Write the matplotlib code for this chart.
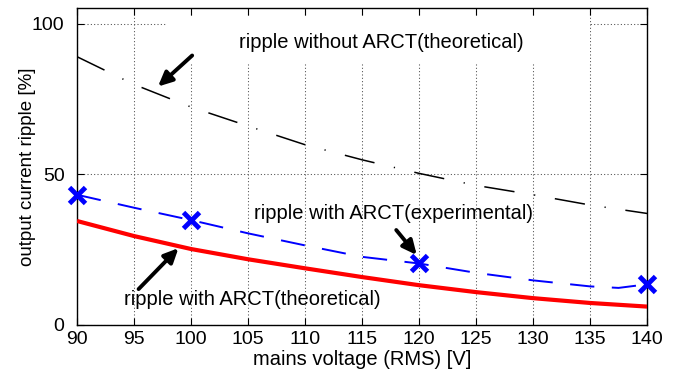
import matplotlib
matplotlib.use("Agg")
import matplotlib.pyplot as plt
from matplotlib.patches import Rectangle

plt.rcParams['font.family'] = ['Liberation Sans', 'DejaVu Sans']

# theoretical ripple without ARCT
v_without = [90, 95, 100, 105, 110, 115, 120, 125, 130, 135, 140]
ripple_without = [89.0, 79.8, 72.3, 66.0, 59.8, 54.8, 50.3, 46.3, 43.2, 39.8, 37.0]

# theoretical ripple with ARCT
v_theory = [90, 95, 100, 105, 110, 115, 120, 125, 130, 135, 140]
ripple_theory = [34.5, 29.5, 25.2, 21.8, 18.8, 15.9, 13.2, 10.9, 8.9, 7.3, 6.1]

# experimental ripple with ARCT (measured points + drawn dashed curve)
v_exp = [90, 100, 120, 140]
ripple_exp = [43.2, 34.8, 20.5, 13.5]
v_exp_curve = [90, 95, 100, 105, 110, 115, 120, 125, 130, 135, 137.5, 140]
ripple_exp_curve = [43.2, 38.9, 34.8, 30.4, 26.4, 22.6, 20.4, 17.3, 14.8, 12.8, 12.3, 13.5]

x_ticks = [90, 95, 100, 105, 110, 115, 120, 125, 130, 135, 140]
y_ticks = [0, 50, 100]

label_without = "ripple without ARCT(theoretical)"
label_exp = "ripple with ARCT(experimental)"
label_theory = "ripple with ARCT(theoretical)"

fig = plt.figure(figsize=(6.84, 3.77), dpi=100)
ax = fig.add_axes([0.1126, 0.138, 0.8334, 0.8395])
ax.set_xlim(90, 140)
ax.set_ylim(0, 105)
ax.set_axisbelow(True)

ax.grid(True, linestyle=(0, (1, 2.2)), color='0.3', linewidth=0.75)

# white box behind the top label (hides the grid)
ax.add_patch(Rectangle((97.9, 86.8), 37.1, 15.8, facecolor='white',
                       edgecolor='none', zorder=1))

ln, = ax.plot(v_without, ripple_without, color='black', linewidth=1.1, zorder=3)
ln.set_dashes([20, 13, 0.8, 13])

ax.plot(v_theory, ripple_theory, color='red', linewidth=3.0, zorder=3,
        solid_capstyle='butt')

lb, = ax.plot(v_exp_curve, ripple_exp_curve, color='blue', linewidth=1.4, zorder=3)
lb.set_dashes([12.5, 9])
ax.plot(v_exp, ripple_exp, linestyle='none', marker='x', color='blue',
        markersize=11, markeredgewidth=3.5, zorder=4, clip_on=False)

fs = 14.5
ax.text(116.7, 93.7, label_without, ha='center', va='center', fontsize=fs, zorder=5)
ax.text(117.8, 37.1, label_exp, ha='center', va='center', fontsize=fs, zorder=5)
ax.text(105.4, 8.3, label_theory, ha='center', va='center', fontsize=fs, zorder=5)

arrow = dict(arrowstyle='-|>,head_length=0.85,head_width=0.4', lw=2.8,
             color='black', shrinkA=0, shrinkB=0)
ax.annotate('', xy=(97.1, 79.1), xytext=(100.1, 89.4), arrowprops=arrow, zorder=5)
ax.annotate('', xy=(119.8, 23.2), xytext=(118.0, 31.5), arrowprops=arrow, zorder=5)
ax.annotate('', xy=(98.9, 25.5), xytext=(95.4, 11.9), arrowprops=arrow, zorder=5)

ax.set_xticks(x_ticks)
ax.set_yticks(y_ticks)
ax.tick_params(direction='in', top=True, right=True, length=5, width=0.8,
               labelsize=14)
ax.tick_params(axis='x', pad=4)
ax.tick_params(axis='y', pad=9)
for s in ax.spines.values():
    s.set_linewidth(1.0)

ax.set_xlabel("mains voltage (RMS) [V]", fontsize=14.5, labelpad=2)
ax.set_ylabel("output current ripple [%]", fontsize=13.5, labelpad=-3)

fig.savefig("out.png", dpi=100)
